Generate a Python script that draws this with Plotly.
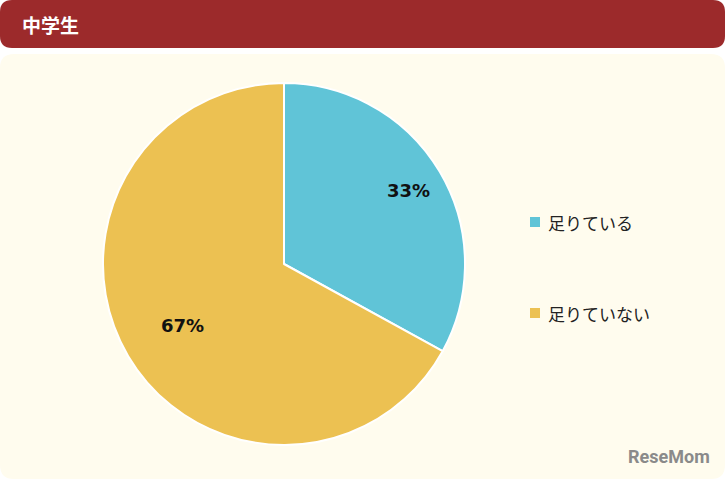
import math
import plotly.graph_objects as go

W, H = 725, 479

# Data
labels = ["足りている", "足りていない"]
values = [33, 67]
colors = ["#60c4d7", "#ecc152"]
title_text = "中学生"

# pie geometry in pixels
CX, CY, R = 284, 264, 181


def rounded_rect(x0, y0, x1, y1, r):
    # pixel coords (top-left origin) -> paper coords path
    def p(x, y):
        return f"{x / W:.5f},{1 - y / H:.5f}"
    return (f"M {p(x0 + r, y0)} L {p(x1 - r, y0)} Q {p(x1, y0)} {p(x1, y0 + r)} "
            f"L {p(x1, y1 - r)} Q {p(x1, y1)} {p(x1 - r, y1)} L {p(x0 + r, y1)} "
            f"Q {p(x0, y1)} {p(x0, y1 - r)} L {p(x0, y0 + r)} Q {p(x0, y0)} {p(x0 + r, y0)} Z")


fig = go.Figure(go.Pie(
    labels=labels,
    values=values,
    marker=dict(colors=colors, line=dict(color="white", width=2)),
    sort=False,
    direction="clockwise",
    rotation=0,
    textinfo="none",
    hoverinfo="label+percent",
    domain=dict(x=[(CX - R) / W, (CX + R) / W], y=[1 - (CY + R) / H, 1 - (CY - R) / H]),
    showlegend=False,
))

shapes = [
    dict(type="path", xref="paper", yref="paper", layer="below",
         path=rounded_rect(0, 0, W, 48, 12), fillcolor="#9c2a2b", line=dict(width=0)),
    dict(type="path", xref="paper", yref="paper", layer="below",
         path=rounded_rect(0, 54, W, H, 14), fillcolor="#fffcee", line=dict(width=0)),
]
annotations = [
    dict(text=f"<b>{title_text}</b>", x=20 / W, y=1 - 24 / H, xref="paper", yref="paper",
         xanchor="left", yanchor="middle", showarrow=False,
         font=dict(size=19, color="white")),
    dict(text="<b>ReseMom</b>", x=712 / W, y=1 - 456 / H, xref="paper", yref="paper",
         xanchor="right", yanchor="middle", showarrow=False,
         font=dict(size=18, color="#8a8a8a", family="Roboto")),
]

# percent labels placed further out than plotly's default
total = sum(values)
start = 0
for v in values:
    mid = (start + v / 2) / total * 2 * math.pi
    start += v
    x = CX + 0.8 * R * math.sin(mid)
    y = CY - 0.8 * R * math.cos(mid)
    annotations.append(dict(text=f"<b>{round(v / total * 100)}%</b>", x=x / W, y=1 - y / H,
                            xref="paper", yref="paper", showarrow=False,
                            font=dict(size=18, color="#111111", family="DejaVu Sans")))

# legend drawn manually to match the wide spacing
for i, (lab, col) in enumerate(zip(labels, colors)):
    yc = 222 + i * 91
    shapes.append(dict(type="rect", xref="paper", yref="paper",
                       x0=530 / W, x1=540 / W, y0=1 - (yc + 5) / H, y1=1 - (yc - 5) / H,
                       fillcolor=col, line=dict(width=0)))
    annotations.append(dict(text=lab, x=546 / W, y=1 - yc / H, xref="paper", yref="paper",
                            xanchor="left", yanchor="middle", showarrow=False,
                            font=dict(size=17, color="#222222")))

fig.update_layout(
    width=W, height=H,
    margin=dict(l=0, r=0, t=0, b=0),
    paper_bgcolor="white",
    font=dict(family="Noto Sans CJK JP, Noto Sans, sans-serif"),
    shapes=shapes,
    annotations=annotations,
)

fig.write_html("out.html", config={"displayModeBar": False},
               post_script="document.body.style.margin='0';")
